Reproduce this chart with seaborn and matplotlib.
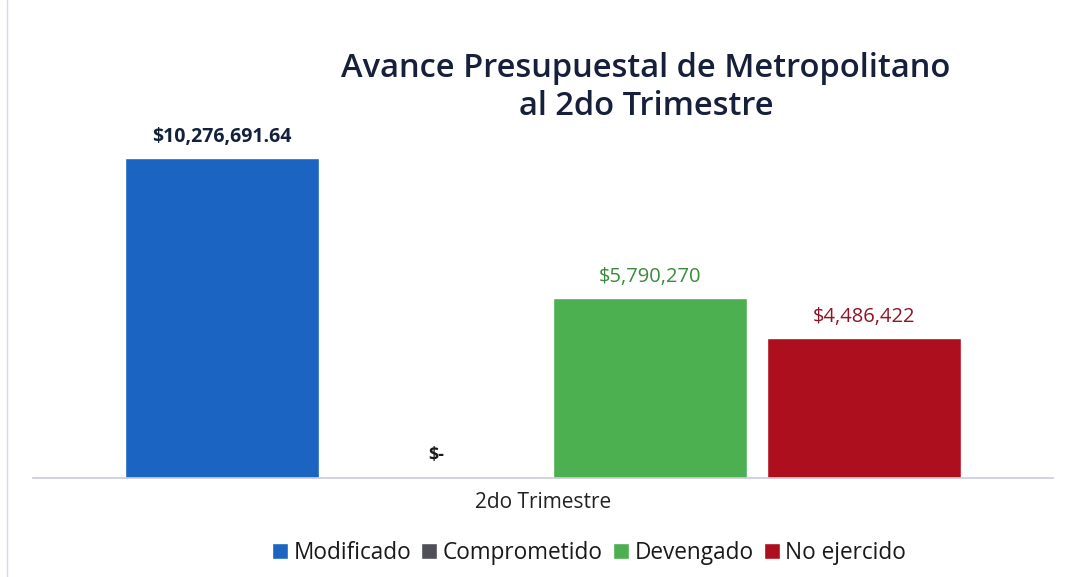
import matplotlib
matplotlib.use('Agg')
import matplotlib.pyplot as plt
import seaborn as sns
import pandas as pd

# ── Data ──
periodos   = ['2do Trimestre'] * 4
conceptos  = ['Modificado', 'Comprometido', 'Devengado', 'No ejercido']
montos     = [10276691.64, 0.0, 5790270.0, 4486422.0]
etiquetas  = ['$10,276,691.64', '$-', '$5,790,270', '$4,486,422']

COLORES      = ['#1b64c2', '#4f4f57', '#4cb050', '#ad0f1f']
COLOR_LABELS = ['#14213d', '#1a1a1a', '#3c8a3c', '#8e1426']
PESO_LABELS  = ['bold', 'bold', 'normal', 'normal']
SIZE_LABELS  = [14, 13, 14.5, 14.5]

df = pd.DataFrame({'periodo': periodos, 'concepto': conceptos, 'monto': montos})

sns.set_style('white')
plt.rcParams['font.family'] = ['Open Sans', 'DejaVu Sans']

W, H = 1069, 577
fig = plt.figure(figsize=(W / 100, H / 100), dpi=100)
ax = fig.add_axes([33 / W, 99 / H, 1020 / W, 360 / H])

sns.barplot(data=df, x='periodo', y='monto', hue='concepto',
            hue_order=conceptos, palette=COLORES, gap=0.09,
            saturation=1, ax=ax, legend=True)

ax.set_xlim(-0.4766, 0.4766)
ax.set_ylim(0, 10276691.64 * 360 / 320)

# ── Data labels ──
for bar, txt, col, w, s in zip(ax.patches[:4], etiquetas, COLOR_LABELS,
                               PESO_LABELS, SIZE_LABELS):
    cx = bar.get_x() + bar.get_width() / 2
    h = bar.get_height()
    off = 10 if h == 0 else 8
    ax.annotate(txt, (cx, h), xytext=(0, off), textcoords='offset points',
                ha='center', va='bottom', fontsize=s, color=col, weight=w)

# ── Axes styling ──
sns.despine(ax=ax, left=True, top=True, right=True)
ax.spines['bottom'].set_color('#c8cbd8')
ax.spines['bottom'].set_linewidth(1.2)
ax.set_yticks([])
ax.set_ylabel('')
ax.set_xlabel('')
ax.tick_params(axis='x', length=0, labelsize=15, colors='#222222', pad=10)

fig.text(646 / W, 1 - 87 / H, 'Avance Presupuestal de Metropolitano\nal 2do Trimestre',
         ha='center', va='center', fontsize=23.5, color='#16203a', weight='semibold',
         linespacing=1.2)

leg = ax.legend(loc='center', bbox_to_anchor=(589 / W, 1 - 553 / H),
                bbox_transform=fig.transFigure, ncol=4, frameon=False,
                fontsize=16.3, handlelength=0.7, handleheight=0.7,
                handletextpad=0.25, columnspacing=0.45)
for t in leg.get_texts():
    t.set_color('#1a1a1a')

# chart frame edge on the left, as in the scan
fig.add_artist(plt.Line2D([7 / W, 7 / W], [0, 1], color='#d6d8e6', lw=1))

fig.savefig('out.png', dpi=100, facecolor='white')
